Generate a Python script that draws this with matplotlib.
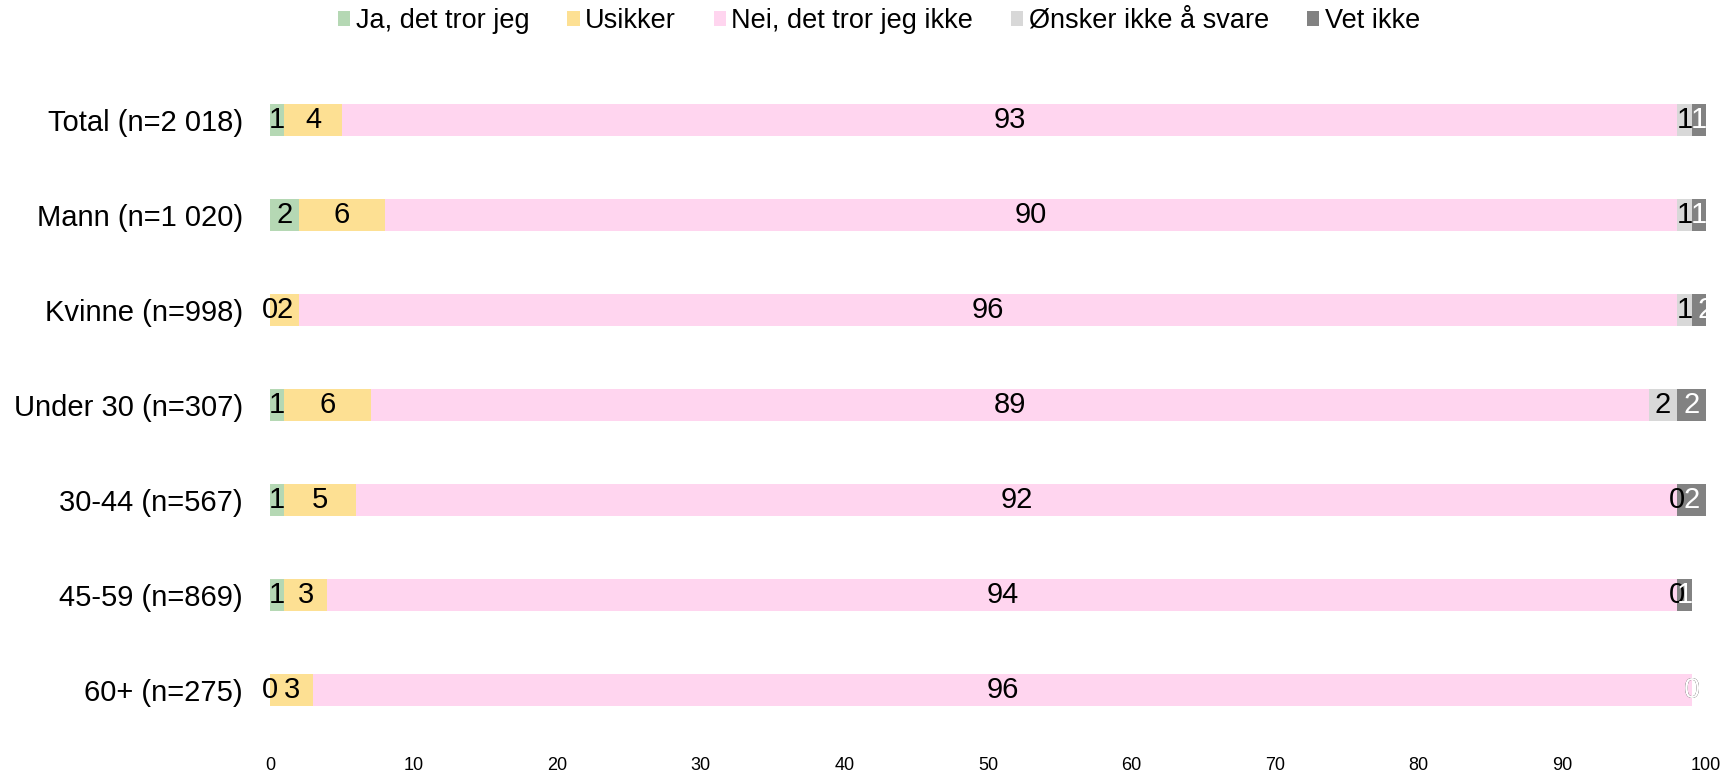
import matplotlib
matplotlib.use("Agg")
import matplotlib.pyplot as plt
from matplotlib.patches import Rectangle

plt.rcParams["font.family"] = ["Liberation Sans", "DejaVu Sans"]

groups = ["Total (n=2 018)", "Mann (n=1 020)", "Kvinne (n=998)", "Under 30 (n=307)",
          "30-44 (n=567)", "45-59 (n=869)", "60+ (n=275)"]
series = ["Ja, det tror jeg", "Usikker", "Nei, det tror jeg ikke",
          "Ønsker ikke å svare", "Vet ikke"]

ja = [1, 2, 0, 1, 1, 1, 0]
usikker = [4, 6, 2, 6, 5, 3, 3]
nei = [93, 90, 96, 89, 92, 94, 96]
onsker_ikke = [1, 1, 1, 2, 0, 0, 0]
vet_ikke = [1, 1, 2, 2, 2, 1, 0]

colors = ["#b5d8b4", "#fde093", "#ffd5ef", "#d8d8d8", "#828282"]
label_colors = ["black", "black", "black", "black", "white"]

fig = plt.figure(figsize=(17.26, 7.72), dpi=100)
ax = fig.add_axes([270 / 1726, (772 - 737.5) / 772, 1436 / 1726, 665 / 772])

# labels are cut off at the right edge of the plot, not on the left
clip = Rectangle((-0.05, 0), 1.05, 1, transform=ax.transAxes, visible=False)
ax.add_patch(clip)

rows = range(len(groups))
left = [0] * len(groups)
for name, vals, col, tcol in zip(series, [ja, usikker, nei, onsker_ikke, vet_ikke],
                                 colors, label_colors):
    ax.barh(rows, vals, left=left, height=0.33, color=col, label=name)
    for i, v in enumerate(vals):
        t = ax.text(left[i] + v / 2, i, f"{v:.0f}", ha="center", va="center",
                    color=tcol, fontsize=21)
        t.set_clip_path(clip)
    left = [l + v for l, v in zip(left, vals)]

ax.set_xlim(0, 100)
ax.set_ylim(6.5, -0.5)
ax.set_xticks(range(0, 101, 10))
ax.set_yticks(list(rows))
ax.set_yticklabels(groups, fontsize=21)
ax.tick_params(axis="x", length=0, pad=14, labelsize=13)
ax.tick_params(axis="y", length=0, pad=19.5)
for s in ax.spines.values():
    s.set_visible(False)

fig.legend(loc="center", bbox_to_anchor=(879 / 1726, 1 - 21 / 772), ncol=5,
           frameon=False, fontsize=19.5, handlelength=0.45, handleheight=0.5,
           handletextpad=0.2, columnspacing=1.4, borderaxespad=0)

fig.savefig("out.png", dpi=100)
